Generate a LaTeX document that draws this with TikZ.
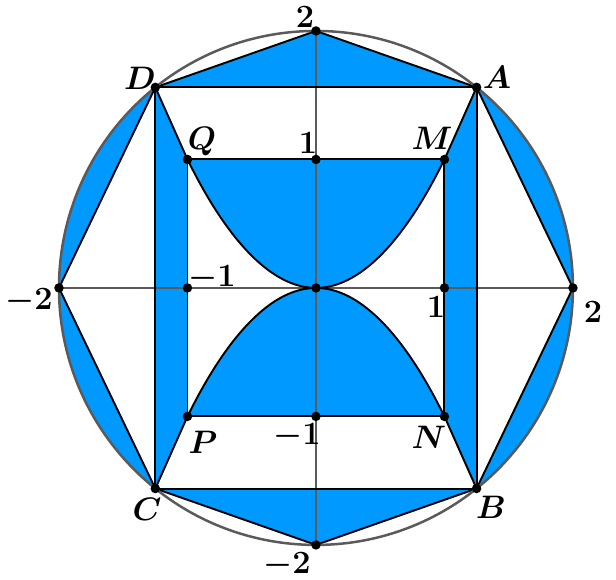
\documentclass[tikz,border=0pt]{standalone}
\usepackage{amsmath}
\definecolor{fillblue}{RGB}{0,153,255}
\definecolor{circgray}{RGB}{90,90,90}
\tikzset{
  blk/.style={black,line width=0.85pt},
  axis/.style={circgray,line width=0.6pt},
  dot/.style={circle,fill=black,inner sep=0pt,minimum size=4.2pt},
  lab/.style={font=\boldmath\fontsize{15.5}{18}\selectfont,inner sep=0pt}
}
\begin{document}
\begin{tikzpicture}[scale=2]
\useasboundingbox (-2.459,-2.272) rectangle (2.335,2.241);
\def\ya{1.5612}
\coordinate (O) at (0,0);
\coordinate (A) at (1.25,\ya);
\coordinate (B) at (1.25,-\ya);
\coordinate (C) at (-1.25,-\ya);
\coordinate (D) at (-1.25,\ya);
\coordinate (M) at (1,1);
\coordinate (N) at (1,-1);
\coordinate (P) at (-1,-1);
\coordinate (Q) at (-1,1);
\coordinate (T) at (0,2);
\coordinate (Bt) at (0,-2);
\coordinate (L) at (-2,0);
\coordinate (R) at (2,0);
\coordinate (Y1) at (0,1);
\coordinate (Ym) at (0,-1);
\coordinate (X1) at (1,0);
\coordinate (Xm) at (-1,0);
% fills
\fill[fillblue] (D) -- (T) -- (A) -- cycle;
\fill[fillblue] (C) -- (Bt) -- (B) -- cycle;
\fill[fillblue] (D) -- (Q) -- (P) -- (C) -- cycle;
\fill[fillblue] (A) -- (M) -- (N) -- (B) -- cycle;
\fill[fillblue] (Q) parabola bend (O) (M) -- cycle;
\fill[fillblue] (P) parabola bend (O) (N) -- cycle;
\fill[fillblue] (D) arc[start angle=128.66,end angle=180,radius=2] -- cycle;
\fill[fillblue] (L) arc[start angle=180,end angle=231.34,radius=2] -- cycle;
\fill[fillblue] (B) arc[start angle=-51.34,end angle=0,radius=2] -- cycle;
\fill[fillblue] (R) arc[start angle=0,end angle=51.34,radius=2] -- cycle;
% axes
\draw[axis] (L) -- (R);
\draw[axis] (T) -- (Bt);
% lines
\draw[blk] (D) -- (T) -- (A) -- (R) -- (B) -- (Bt) -- (C) -- (L) -- cycle;
\draw[blk] (D) -- (A) -- (B) -- (C) -- cycle;
\draw[blk] (D) -- (Q) (A) -- (M) (B) -- (N) (C) -- (P);
\draw[blk] (Q) -- (M) -- (N) -- (P) -- cycle;
\draw[blk] (Q) parabola bend (O) (M);
\draw[blk] (P) parabola bend (O) (N);
\draw[circgray,line width=1.1pt] (O) circle[radius=2];
% dots
\foreach \p in {A,B,C,D,M,N,P,Q,T,Bt,L,R,Y1,Ym,X1,Xm,O}
  \node[dot] (d\p) at (\p) {};
% labels
\node[lab] (lT) at (-0.086,2.109) {$2$};
\node[lab] (lD) at (-1.370,1.634) {$D$};
\node[lab] (lA) at (1.409,1.642) {$A$};
\node[lab] (lQ) at (-0.887,1.140) {$Q$};
\node[lab] (lY1) at (-0.062,1.128) {$1$};
\node[lab] (lM) at (0.903,1.167) {$M$};
\node[lab] (lL) at (-2.233,-0.101) {$-2$};
\node[lab] (lXm) at (-0.809,0.078) {$-1$};
\node[lab] (lX1) at (0.934,-0.148) {$1$};
\node[lab] (lR) at (2.156,-0.187) {$2$};
\node[lab] (lP) at (-0.879,-1.198) {$P$};
\node[lab] (lYm) at (-0.148,-1.152) {$-1$};
\node[lab] (lN) at (0.879,-1.160) {$N$};
\node[lab] (lC) at (-1.315,-1.720) {$C$};
\node[lab] (lB) at (1.362,-1.704) {$B$};
\node[lab] (lBt) at (-0.226,-2.156) {$-2$};
\end{tikzpicture}
\end{document}
